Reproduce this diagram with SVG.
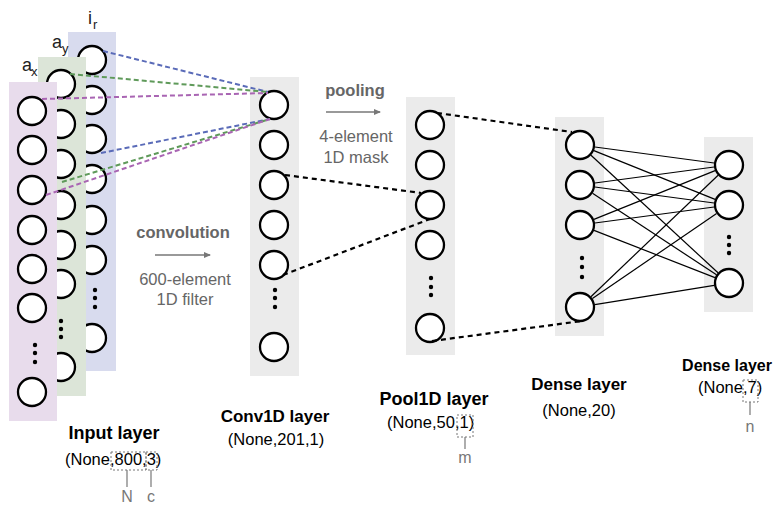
<svg xmlns="http://www.w3.org/2000/svg" width="775" height="505" viewBox="0 0 775 505">
  <style>
    text { font-family: "Liberation Sans", Arial, sans-serif; }
    .node { fill: #ffffff; stroke: #000000; stroke-width: 2.3; }
    .dot { fill: #000000; }
    .col-gray { fill: #ebebeb; }
    .col-blue { fill: #d8dbee; }
    .col-green { fill: #dce5d8; }
    .col-purple { fill: #e8dcec; }
    .title { font-size: 17px; font-weight: bold; fill: #000; text-anchor: middle; }
    .shape { font-size: 16.5px; fill: #000; }
    .op { font-size: 16.5px; font-weight: bold; fill: #666; text-anchor: middle; }
    .note { font-size: 16.5px; fill: #666; text-anchor: middle; }
    .dim { font-size: 16px; fill: #777; text-anchor: middle; }
    .axis { font-size: 18px; fill: #222; }
    .sub { font-size: 13px; fill: #222; }
    .dbox { fill: none; stroke: #777; stroke-width: 1; stroke-dasharray: 2 2; }
    .tick { stroke: #777; stroke-width: 1.2; }
    .dense { stroke: #000; stroke-width: 1.2; fill: none; }
    .pass { stroke: #000; stroke-width: 2.2; stroke-dasharray: 5 4; fill: none; }
    .fb { stroke: #5a6bb8; stroke-width: 2; stroke-dasharray: 5 3; fill: none; }
    .fg { stroke: #5f9a5a; stroke-width: 2; stroke-dasharray: 5 3; fill: none; }
    .fp { stroke: #a965b3; stroke-width: 2; stroke-dasharray: 5 3; fill: none; }
    .arrow { stroke: #777; stroke-width: 1.5; fill: none; }
  </style>
  <defs>
    <marker id="head" markerWidth="8" markerHeight="8" refX="6" refY="3" orient="auto" markerUnits="userSpaceOnUse">
      <path d="M0,0 L7,3 L0,6 Z" fill="#777"/>
    </marker>
  </defs>

  <!-- input channel i_r -->
  <g id="input-ir">
    <rect class="col-blue" x="68" y="32" width="48" height="339"/>
    <circle class="node" cx="92" cy="60" r="14"/>
    <circle class="node" cx="92" cy="100" r="14"/>
    <circle class="node" cx="92" cy="139" r="14"/>
    <circle class="node" cx="92" cy="179" r="14"/>
    <circle class="node" cx="92" cy="220" r="14"/>
    <circle class="node" cx="92" cy="260" r="14"/>
    <circle class="dot" cx="95" cy="290" r="2.2"/>
    <circle class="dot" cx="95" cy="298" r="2.2"/>
    <circle class="dot" cx="95" cy="307" r="2.2"/>
    <circle class="node" cx="92" cy="338" r="14"/>
    <text class="axis" x="88" y="24">i</text>
    <text class="sub" x="93" y="29">r</text>
  </g>

  <!-- input channel a_y -->
  <g id="input-ay">
    <rect class="col-green" x="38" y="57" width="48" height="339"/>
    <circle class="node" cx="61" cy="84" r="14"/>
    <circle class="node" cx="61" cy="124" r="14"/>
    <circle class="node" cx="61" cy="164" r="14"/>
    <circle class="node" cx="61" cy="205" r="14"/>
    <circle class="node" cx="61" cy="245" r="14"/>
    <circle class="node" cx="61" cy="284" r="14"/>
    <circle class="dot" cx="61" cy="321" r="2.2"/>
    <circle class="dot" cx="61" cy="329" r="2.2"/>
    <circle class="dot" cx="61" cy="337" r="2.2"/>
    <circle class="node" cx="61" cy="367" r="14"/>
    <text class="axis" x="52" y="48">a</text>
    <text class="sub" x="62" y="53">y</text>
  </g>

  <!-- input channel a_x -->
  <g id="input-ax">
    <rect class="col-purple" x="9" y="82" width="48" height="339"/>
    <circle class="node" cx="32" cy="111" r="14"/>
    <circle class="node" cx="32" cy="150" r="14"/>
    <circle class="node" cx="32" cy="190" r="14"/>
    <circle class="node" cx="32" cy="230" r="14"/>
    <circle class="node" cx="32" cy="269" r="14"/>
    <circle class="node" cx="32" cy="308" r="14"/>
    <circle class="dot" cx="35" cy="345" r="2.2"/>
    <circle class="dot" cx="35" cy="353" r="2.2"/>
    <circle class="dot" cx="35" cy="362" r="2.2"/>
    <circle class="node" cx="32" cy="392" r="14"/>
    <text class="axis" x="22" y="71">a</text>
    <text class="sub" x="31" y="76">x</text>
  </g>

  <!-- Conv1D layer -->
  <g id="conv1d">
    <rect class="col-gray" x="250" y="77" width="49" height="299"/>
    <circle class="node" cx="274" cy="105" r="14"/>
    <circle class="node" cx="274" cy="145" r="14"/>
    <circle class="node" cx="274" cy="185" r="14"/>
    <circle class="node" cx="274" cy="225" r="14"/>
    <circle class="node" cx="274" cy="265" r="14"/>
    <circle class="dot" cx="275" cy="290" r="2.2"/>
    <circle class="dot" cx="275" cy="298" r="2.2"/>
    <circle class="dot" cx="275" cy="307" r="2.2"/>
    <circle class="node" cx="274" cy="347" r="14"/>
  </g>

  <!-- Pool1D layer -->
  <g id="pool1d">
    <rect class="col-gray" x="406" y="97" width="49" height="258"/>
    <circle class="node" cx="430" cy="125" r="14"/>
    <circle class="node" cx="430" cy="165" r="14"/>
    <circle class="node" cx="430" cy="205" r="14"/>
    <circle class="node" cx="430" cy="245" r="14"/>
    <circle class="dot" cx="431" cy="278" r="2.2"/>
    <circle class="dot" cx="431" cy="287" r="2.2"/>
    <circle class="dot" cx="431" cy="295" r="2.2"/>
    <circle class="node" cx="430" cy="328" r="14"/>
  </g>

  <!-- Dense layer (20) -->
  <g id="dense20">
    <rect class="col-gray" x="555" y="117" width="49" height="219"/>
    <circle class="node" cx="580" cy="145" r="14"/>
    <circle class="node" cx="580" cy="185" r="14"/>
    <circle class="node" cx="580" cy="225" r="14"/>
    <circle class="dot" cx="582" cy="258" r="2.2"/>
    <circle class="dot" cx="582" cy="267" r="2.2"/>
    <circle class="dot" cx="582" cy="277" r="2.2"/>
    <circle class="node" cx="580" cy="307" r="14"/>
  </g>

  <!-- Dense layer (7) -->
  <g id="dense7">
    <rect class="col-gray" x="704" y="137" width="49" height="175"/>
    <circle class="node" cx="729" cy="165" r="14"/>
    <circle class="node" cx="729" cy="205" r="14"/>
    <circle class="dot" cx="729" cy="237" r="2.2"/>
    <circle class="dot" cx="729" cy="245" r="2.2"/>
    <circle class="dot" cx="729" cy="253" r="2.2"/>
    <circle class="node" cx="729" cy="283" r="14"/>
  </g>

  <!-- connectors -->
  <g id="connectors">
    <!-- convolution window, first output -->
    <line class="fb" x1="103" y1="51" x2="268" y2="92"/>
    <line class="fg" x1="70" y1="74" x2="268" y2="92"/>
    <line class="fp" x1="42" y1="99" x2="268" y2="93"/>
    <!-- convolution window, last input -->
    <line class="fb" x1="101" y1="153" x2="270" y2="119"/>
    <line class="fg" x1="62" y1="182" x2="270" y2="119"/>
    <line class="fp" x1="46" y1="195" x2="270" y2="119"/>
    <!-- pooling window -->
    <line class="pass" x1="285" y1="175" x2="421" y2="193"/>
    <line class="pass" x1="283" y1="275" x2="430" y2="219"/>
    <!-- pool to dense -->
    <line class="pass" x1="437" y1="113" x2="572" y2="132"/>
    <line class="pass" x1="432" y1="341" x2="582" y2="321"/>
    <!-- fully connected -->
    <line class="dense" x1="594.9" y1="147.0" x2="714.1" y2="163.0"/>
    <line class="dense" x1="593.9" y1="150.6" x2="715.1" y2="199.4"/>
    <line class="dense" x1="591.0" y1="155.2" x2="718.0" y2="272.8"/>
    <line class="dense" x1="594.9" y1="183.0" x2="714.1" y2="167.0"/>
    <line class="dense" x1="594.9" y1="187.0" x2="714.1" y2="203.0"/>
    <line class="dense" x1="592.5" y1="193.2" x2="716.5" y2="274.8"/>
    <line class="dense" x1="593.9" y1="219.4" x2="715.1" y2="170.6"/>
    <line class="dense" x1="594.9" y1="223.0" x2="714.1" y2="207.0"/>
    <line class="dense" x1="594.0" y1="230.4" x2="715.0" y2="277.6"/>
    <line class="dense" x1="590.9" y1="296.7" x2="718.1" y2="175.3"/>
    <line class="dense" x1="592.4" y1="298.5" x2="716.6" y2="213.5"/>
    <line class="dense" x1="594.8" y1="304.6" x2="714.2" y2="285.4"/>
  </g>

  <!-- operation captions -->
  <g id="op-convolution">
    <text class="op" x="183" y="238">convolution</text>
    <line class="arrow" x1="155" y1="255" x2="210" y2="255" marker-end="url(#head)"/>
    <text class="note" x="185" y="285">600-element</text>
    <text class="note" x="185" y="305">1D filter</text>
  </g>
  <g id="op-pooling">
    <text class="op" x="355" y="96">pooling</text>
    <line class="arrow" x1="326" y1="112" x2="380" y2="112" marker-end="url(#head)"/>
    <text class="note" x="356" y="142">4-element</text>
    <text class="note" x="356" y="163">1D mask</text>
  </g>

  <!-- layer captions -->
  <g id="label-input">
    <text class="title" x="114" y="439" style="font-size:18px">Input layer</text>
    <text class="shape" x="65" y="465">(None,800,3)</text>
    <rect class="dbox" x="111" y="452" width="35" height="18"/>
    <rect class="dbox" x="146" y="452" width="11" height="18"/>
    <line class="tick" x1="127" y1="470" x2="127" y2="487"/>
    <line class="tick" x1="151" y1="470" x2="151" y2="487"/>
    <text class="dim" x="127" y="502">N</text>
    <text class="dim" x="151" y="502">c</text>
  </g>
  <g id="label-conv1d">
    <text class="title" x="275" y="422">Conv1D layer</text>
    <text class="shape" x="276" y="445" text-anchor="middle">(None,201,1)</text>
  </g>
  <g id="label-pool1d">
    <text class="title" x="434" y="405" style="font-size:18px">Pool1D layer</text>
    <text class="shape" x="387" y="428">(None,50,1)</text>
    <rect class="dbox" x="457" y="415" width="16" height="22"/>
    <line class="tick" x1="465" y1="437" x2="465" y2="449"/>
    <text class="dim" x="465" y="463">m</text>
  </g>
  <g id="label-dense20">
    <text class="title" x="579" y="390">Dense layer</text>
    <text class="shape" x="579" y="416" text-anchor="middle">(None,20)</text>
  </g>
  <g id="label-dense7">
    <text class="title" x="727" y="371" style="font-size:16px">Dense layer</text>
    <text class="shape" x="698" y="393">(None,7)</text>
    <rect class="dbox" x="743" y="380" width="15" height="22"/>
    <line class="tick" x1="750" y1="402" x2="750" y2="415"/>
    <text class="dim" x="750" y="432">n</text>
  </g>
</svg>
